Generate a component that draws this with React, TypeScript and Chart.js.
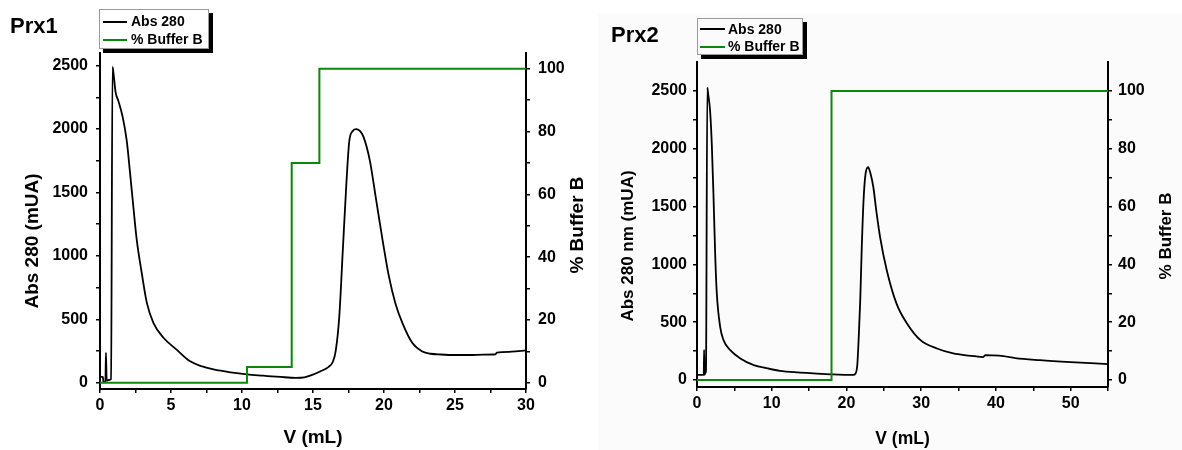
import React, { useEffect, useRef } from 'react';
import { Chart, registerables } from 'chart.js';

Chart.register(...registerables);

const FONT = '"Liberation Sans", Arial, Helvetica, sans-serif';
const GREEN = '#0b870b';

// ---------------- Prx1 data ----------------
const prx1Volume = [
  0, 0.2, 0.25, 0.38, 0.42, 0.47, 0.55, 0.78, 0.88, 0.95, 1.1, 1.3, 1.6, 1.88, 2.12, 2.35, 2.59, 2.94,
  3.3, 3.76, 4.47, 5.41, 6.35, 7.2, 8.0, 9.2, 10.35, 11.5, 12.7, 13.8, 14.4, 14.8, 15.5, 16.1, 16.4,
  16.6, 16.85, 17.1, 17.35, 17.55, 17.8, 18.05, 18.3, 18.55, 19.0, 19.45, 19.9, 20.35, 20.8, 21.3,
  22.0, 22.7, 23.3, 24.0, 25.0, 26.0, 27.0, 27.85, 27.95, 29.0, 30,
];
const prx1Abs = [
  45, 45, 3, 5, 236, 15, 20, 28, 2490, 2440, 2290, 2220, 2094, 1910, 1650, 1386, 1124, 865,
  629, 472, 354, 259, 168, 128, 104, 81, 65, 55, 45, 38, 42, 55, 88, 125, 165,
  250, 520, 1045, 1570, 1900, 1985, 2000, 1985, 1940, 1753, 1439, 1124, 836, 627, 469,
  312, 246, 228, 222, 218, 218, 221, 224, 236, 244, 254,
];
const prx1StepVolume = [0, 10.35, 13.5, 15.45, 30];
const prx1BufferB = [0, 5, 70, 100, 100];
const prx1VTicks = [0, 2.5, 5, 7.5, 10, 12.5, 15, 17.5, 20, 22.5, 25, 27.5, 30];
const prx1VLabels = [0, 5, 10, 15, 20, 25, 30];

// ---------------- Prx2 data ----------------
const prx2Volume = [
  0, 0.9, 0.95, 1.0, 1.12, 1.2, 1.38, 1.5, 1.75, 1.98, 2.2, 2.43, 2.65, 3.1, 3.55, 4.45, 5.8, 7.6,
  9.5, 11.1, 13.5, 15.6, 18, 20.9, 21.2, 21.45, 21.65, 21.85, 22.05, 22.3, 22.55, 22.9, 23.2, 23.6,
  24.0, 24.5, 25.4, 26.7, 28.1, 29.9, 32.1, 34.3, 36.0, 37.9, 38.3, 38.6, 39.5, 41.0, 42.6, 45.9, 50, 55,
];
const prx2Abs = [
  45, 45, 260, 45, 60, 80, 2528, 2470, 2330, 2040, 1610, 1095, 750, 460, 345, 259, 187, 129,
  100, 80, 66, 58, 50, 45, 55, 130, 380, 700, 1150, 1570, 1780, 1840, 1790, 1667,
  1460, 1236, 948, 661, 489, 345, 273, 230, 213, 201, 199, 216, 214, 207, 190, 172, 155, 138,
];
const prx2StepVolume = [0, 18, 55];
const prx2BufferB = [0, 100, 100];
const prx2VTicks = [0, 5, 10, 15, 20, 25, 30, 35, 40, 45, 50, 55];
const prx2VLabels = [0, 10, 20, 30, 40, 50];

// ---------------- shared ticks / labels ----------------
const absTicks = [0, 250, 500, 750, 1000, 1250, 1500, 1750, 2000, 2250, 2500];
const absLabels = [0, 500, 1000, 1500, 2000, 2500];
const bufferTicks = [0, 10, 20, 30, 40, 50, 60, 70, 80, 90, 100];
const bufferLabels = [0, 20, 40, 60, 80, 100];
const seriesNames = ['Abs 280', '% Buffer B'];

const toPoints = (xs: number[], ys: number[]) => xs.map((x, i) => ({ x, y: ys[i] }));

const axisTitlePlugin = {
  id: 'axisTitles',
  afterDraw(chart: any, _args: any, opts: any) {
    const { ctx } = chart;
    (opts.items || []).forEach((it: any) => {
      ctx.save();
      ctx.translate(it.x, it.y);
      ctx.rotate(-Math.PI / 2);
      ctx.font = `bold ${it.size}px ${FONT}`;
      ctx.fillStyle = '#000';
      ctx.textAlign = 'center';
      ctx.textBaseline = 'middle';
      ctx.fillText(it.text, 0, 0);
      ctx.restore();
    });
  },
};

function scaleDef(opts: {
  position: string;
  min: number;
  max: number;
  values: number[];
  labels: number[];
  padding: number;
  size: number;
  horizontal?: boolean;
  title?: any;
}) {
  const { position, min, max, values, labels, padding, size, horizontal, title } = opts;
  return {
    type: 'linear',
    position,
    min,
    max,
    afterBuildTicks: (scale: any) => {
      scale.ticks = values.map((v) => ({ value: v }));
    },
    afterFit: (scale: any) => {
      if (horizontal) scale.height = size;
      else scale.width = size;
    },
    grid: {
      display: true,
      drawOnChartArea: false,
      drawTicks: true,
      tickLength: 4,
      color: '#000',
      lineWidth: 1.5,
    },
    border: { display: true, color: '#000', width: 2 },
    ticks: {
      autoSkip: false,
      maxRotation: 0,
      minRotation: 0,
      padding,
      color: '#000',
      font: { family: FONT, size: 16, weight: 'bold' },
      callback: (v: any) => (labels.includes(Number(v)) ? String(v) : ''),
    },
    title: title || { display: false },
  };
}

function makeConfig(p: any) {
  return {
    type: 'line',
    data: {
      datasets: [
        {
          label: seriesNames[0],
          data: toPoints(p.absX, p.absY),
          yAxisID: 'y',
          borderColor: '#000',
          borderWidth: 1.8,
          pointRadius: 0,
          cubicInterpolationMode: 'monotone',
          fill: false,
          order: 1,
        },
        {
          label: seriesNames[1],
          data: toPoints(p.bufX, p.bufY),
          yAxisID: 'y1',
          borderColor: GREEN,
          borderWidth: 2,
          pointRadius: 0,
          stepped: true,
          fill: false,
          order: 0,
        },
      ],
    },
    options: {
      responsive: false,
      animation: false,
      events: [],
      layout: { padding: { top: p.top, left: 0, right: 0, bottom: 0 } },
      plugins: {
        legend: { display: false },
        tooltip: { enabled: false },
        axisTitles: { items: p.titles },
      },
      scales: {
        x: scaleDef({
          position: 'bottom',
          min: 0,
          max: p.xMax,
          values: p.xTicks,
          labels: p.xLabels,
          padding: 3,
          size: p.xHeight,
          horizontal: true,
          title: {
            display: true,
            text: 'V (mL)',
            color: '#000',
            font: { family: FONT, size: p.titleSize, weight: 'bold' },
            padding: { top: 0, bottom: p.xTitlePad },
          },
        }),
        y: scaleDef({
          position: 'left',
          min: p.yMin,
          max: p.yMax,
          values: absTicks,
          labels: absLabels,
          padding: p.tickPad,
          size: p.yWidth,
        }),
        y1: scaleDef({
          position: 'right',
          min: p.y1Min,
          max: p.y1Max,
          values: bufferTicks,
          labels: bufferLabels,
          padding: p.tickPad,
          size: p.y1Width,
        }),
      },
    },
    plugins: [axisTitlePlugin],
  };
}

function ChartCanvas({ config, left, width }: { config: any; left: number; width: number }) {
  const ref = useRef<HTMLCanvasElement | null>(null);
  useEffect(() => {
    if (!ref.current) return;
    const chart = new Chart(ref.current, config);
    return () => chart.destroy();
  }, []);
  return (
    <canvas
      ref={ref}
      width={width}
      height={450}
      style={{ position: 'absolute', left, top: 0, width, height: 450 }}
    />
  );
}

function Legend({ left, top, width, height, lineX, lineW, textX, rows }: any) {
  return (
    <>
      <div
        style={{
          position: 'absolute',
          left,
          top,
          width: width - 2,
          height: height - 2,
          border: '1px solid #9a9a9a',
          boxShadow: '4px 4px 0 #000',
        }}
      />
      {rows.map((r: any, i: number) => (
        <React.Fragment key={i}>
          <div
            style={{
              position: 'absolute',
              left: lineX,
              top: r.lineY - 1,
              width: lineW,
              height: 2,
              background: i === 0 ? '#000' : GREEN,
            }}
          />
          <div
            style={{
              position: 'absolute',
              left: textX,
              top: r.textY,
              font: `bold 14px/14px ${FONT}`,
              color: '#000',
              whiteSpace: 'nowrap',
            }}
          >
            {seriesNames[i]}
          </div>
        </React.Fragment>
      ))}
    </>
  );
}

const prx1Config = makeConfig({
  absX: prx1Volume,
  absY: prx1Abs,
  bufX: prx1StepVolume,
  bufY: prx1BufferB,
  top: 53,
  xMax: 30,
  xTicks: prx1VTicks,
  xLabels: prx1VLabels,
  xHeight: 61,
  xTitlePad: 1,
  titleSize: 19,
  yMin: -50,
  yMax: 2600,
  y1Min: -2,
  y1Max: 105,
  yWidth: 100,
  y1Width: 64,
  tickPad: 8,
  titles: [
    { text: 'Abs 280 (mUA)', x: 33, y: 241, size: 19 },
    { text: '% Buffer B', x: 578, y: 225, size: 19 },
  ],
});

const prx2Config = makeConfig({
  absX: prx2Volume,
  absY: prx2Abs,
  bufX: prx2StepVolume,
  bufY: prx2BufferB,
  top: 62,
  xMax: 55,
  xTicks: prx2VTicks,
  xLabels: prx2VLabels,
  xHeight: 63,
  xTitlePad: 0,
  titleSize: 17.5,
  yMin: -60,
  yMax: 2750,
  y1Min: -2.4,
  y1Max: 110,
  yWidth: 107,
  y1Width: 74,
  tickPad: 6,
  titles: [
    { text: 'Abs 280 nm (mUA)', x: 38, y: 246, size: 17 },
    { text: '% Buffer B', x: 576, y: 236, size: 17 },
  ],
});

export default function App() {
  return (
    <div
      style={{
        position: 'fixed',
        left: 0,
        top: 0,
        width: 1182,
        height: 450,
        background: '#fff',
        overflow: 'hidden',
      }}
    >
      <div style={{ position: 'absolute', left: 598, top: 14, width: 584, height: 436, background: '#fbfbfb' }} />
      <ChartCanvas config={prx1Config} left={0} width={590} />
      <ChartCanvas config={prx2Config} left={590} width={592} />
      <div style={{ position: 'absolute', left: 10, top: 15, font: `bold 22px/22px ${FONT}`, color: '#000' }}>Prx1</div>
      <div style={{ position: 'absolute', left: 611, top: 24, font: `bold 22px/22px ${FONT}`, color: '#000' }}>Prx2</div>
      <Legend
        left={99}
        top={9}
        width={110}
        height={40}
        lineX={103}
        lineW={24}
        textX={131}
        rows={[
          { lineY: 21.7, textY: 13.7 },
          { lineY: 40, textY: 32 },
        ]}
      />
      <Legend
        left={697}
        top={18}
        width={106}
        height={37}
        lineX={700}
        lineW={25}
        textX={728}
        rows={[
          { lineY: 29.3, textY: 21.5 },
          { lineY: 46.7, textY: 39.4 },
        ]}
      />
    </div>
  );
}
